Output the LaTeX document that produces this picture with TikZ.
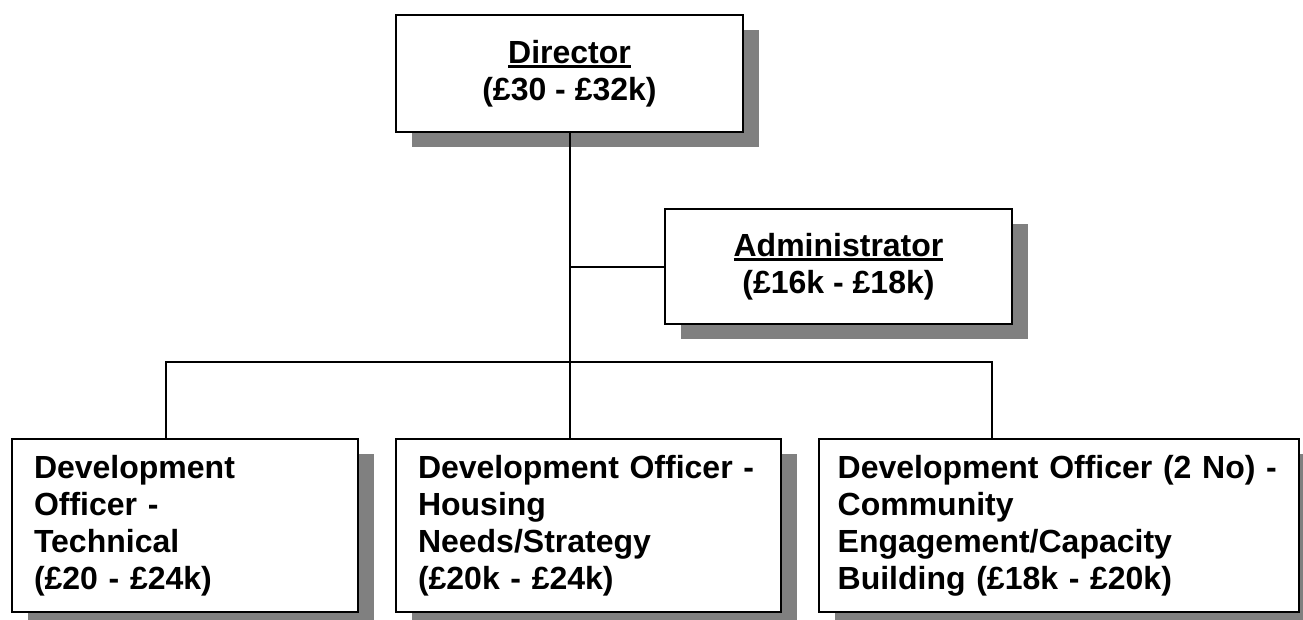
\documentclass[tikz,border=0pt]{standalone}
\usepackage{fontspec}
\setmainfont{Liberation Sans}
\usetikzlibrary{positioning,shadows}
\tikzset{
    post/.style={rectangle,draw=black,line width=1.5pt,fill=white,
        font=\fontsize{24}{27.75}\selectfont\bfseries,
        drop shadow={shadow xshift=12pt,shadow yshift=-11.25pt,fill=black!50,opacity=1}},
    head/.style={post,align=center,minimum width=260.25pt,inner sep=0pt},
    officer/.style={post,align=left,inner xsep=16.5pt,inner ysep=0pt,minimum height=129.75pt},
    link/.style={line width=1.5pt},
}
\newcommand{\heading}[1]{\leavevmode\vtop{\hbox{#1}\kern1.2pt\hrule height 2.2pt}}

\begin{document}
\begin{tikzpicture}
\useasboundingbox (0,0) rectangle (977.25pt,-464.25pt);
\node[head,minimum height=87.75pt] (dir) at (427.125pt,-55.125pt) {\heading{Director}\\(£30 - £32k)};
\node[head,minimum height=86.25pt] (adm) at (628.875pt,-199.875pt) {\heading{Administrator}\\(£16k - £18k)};
\node[officer,text width=226.5pt] (tech) at (138.75pt,-394.125pt) {Development\\Officer -\\Technical\\(£20 - £24k)};
\node[officer,text width=255.75pt,right=27pt of tech] (housing) {Development Officer -\\Housing\\Needs/Strategy\\(£20k - £24k)};
\node[officer,text width=332pt,inner xsep=14pt,right=27pt of housing] (community) {\mbox{Development Officer (2 No) -}\\Community\\Engagement/Capacity\\Building (£18k - £20k)};
% reporting lines
\coordinate (busL) at (124.5pt,-271.5pt);
\coordinate (busR) at (744pt,-271.5pt);
\draw[link] (dir.south) -- (dir.south |- housing.north);
\draw[link] (dir.south |- adm.west) -- (adm.west);
\draw[link] (tech.north -| busL) -- (busL) -- (busR) -- (community.north -| busR);
\end{tikzpicture}
\end{document}
